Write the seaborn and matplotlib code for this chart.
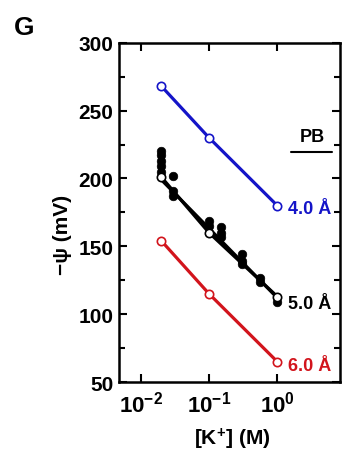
import numpy as np
import pandas as pd
import matplotlib
matplotlib.use("Agg")
import matplotlib.pyplot as plt
import seaborn as sns
from matplotlib.ticker import FixedLocator, NullLocator, MultipleLocator

# PB model values
k_pb = [0.02, 0.1, 1.0]
psi_40 = [268, 230, 180]
psi_50 = [201, 160, 113]
psi_60 = [154, 115, 65]

# experimental values (filled)
k_exp = [0.02, 0.02, 0.02, 0.02, 0.02, 0.03, 0.03, 0.03,
         0.1, 0.1, 0.15, 0.15, 0.15, 0.3, 0.3, 0.3, 0.55, 0.55, 1.0]
psi_exp = [220, 217, 213, 209, 205, 202, 191, 187,
           169, 165, 164, 160, 157, 144, 139, 137, 127, 124, 109]

# fit line for experimental
k_fit = [0.02, 1.0]
psi_fit = [199, 112]

labels = ["4.0 Å", "5.0 Å", "6.0 Å"]
colors = ["#1414c8", "#000000", "#d2141c"]

sns.set_theme(style="ticks")
plt.rcParams['font.family'] = ['Liberation Sans', 'DejaVu Sans']
plt.rcParams['font.weight'] = 'bold'
plt.rcParams['mathtext.fontset'] = 'custom'
plt.rcParams['mathtext.rm'] = 'Liberation Sans:bold'
plt.rcParams['mathtext.bf'] = 'Liberation Sans:bold'
plt.rcParams['mathtext.it'] = 'Liberation Sans:bold'
for k in ['text.color', 'axes.labelcolor', 'xtick.color', 'ytick.color', 'axes.edgecolor']:
    plt.rcParams[k] = 'black'

fig = plt.figure(figsize=(3.47, 4.56), dpi=100)
ax = fig.add_axes([0.343, 0.160, 0.637, 0.744])

sns.lineplot(x=k_fit, y=psi_fit, ax=ax, color="black", linewidth=2.3, zorder=2)
sns.scatterplot(x=k_exp, y=psi_exp, ax=ax, color="black", s=38, edgecolor="black", zorder=3)

for psi, c in zip([psi_40, psi_50, psi_60], colors):
    sns.lineplot(x=k_pb, y=psi, ax=ax, color=c, linewidth=2.3,
                 zorder=4 if c != "#000000" else 2)
    ax.plot(k_pb, psi, linestyle="none", marker="o", markersize=6,
            markerfacecolor="white", markeredgecolor=c, markeredgewidth=1.2, zorder=5)

ax.set_xscale("log")
ax.set_xlim(10**-2.32, 10**0.92)
ax.set_ylim(50, 300)

ax.xaxis.set_major_locator(FixedLocator([0.01, 0.1, 1.0]))
ax.xaxis.set_minor_locator(NullLocator())
ax.set_xticklabels([r"$10^{-2}$", r"$10^{-1}$", r"$10^{0}$"])
ax.yaxis.set_major_locator(MultipleLocator(50))
ax.yaxis.set_minor_locator(MultipleLocator(25))

for s in ax.spines.values():
    s.set_visible(True)
    s.set_linewidth(1.8)
ax.tick_params(which="both", direction="in", top=True, right=True, width=1.5)
ax.tick_params(which="major", length=6)
ax.tick_params(which="minor", length=4)
ax.tick_params(axis="y", labelsize=15, pad=4)
ax.tick_params(axis="x", labelsize=16, pad=6)
for lab in ax.get_yticklabels():
    lab.set_fontweight("bold")

ax.set_xlabel(r"[K$^{+}$] (M)", fontsize=15, fontweight="bold", va="top")
ax.set_ylabel("−ψ (mV)", fontsize=15, fontweight="bold")
ax.xaxis.set_label_coords(0.511, -0.128)
ax.yaxis.set_label_coords(-0.213, 0.437)

# series labels
ax.text(1.42, psi_40[-1] - 2, labels[0], color=colors[0], fontsize=13, fontweight="bold",
        va="center", ha="left", clip_on=False)
ax.text(1.42, psi_50[-1] - 5, labels[1], color=colors[1], fontsize=13, fontweight="bold",
        va="center", ha="left", clip_on=False)
ax.text(1.42, psi_60[-1] - 3, labels[2], color=colors[2], fontsize=13, fontweight="bold",
        va="center", ha="left", clip_on=False)

ax.text(0.873, 0.725, "PB", transform=ax.transAxes, fontsize=13, fontweight="bold",
        ha="center", va="center")
ax.plot([0.78, 0.965], [0.678, 0.678], transform=ax.transAxes, color="black",
        linewidth=1.5)

fig.text(0.069, 0.939, "G", fontsize=19, fontweight="bold", ha="center", va="center")

fig.savefig("out.png", dpi=100)
